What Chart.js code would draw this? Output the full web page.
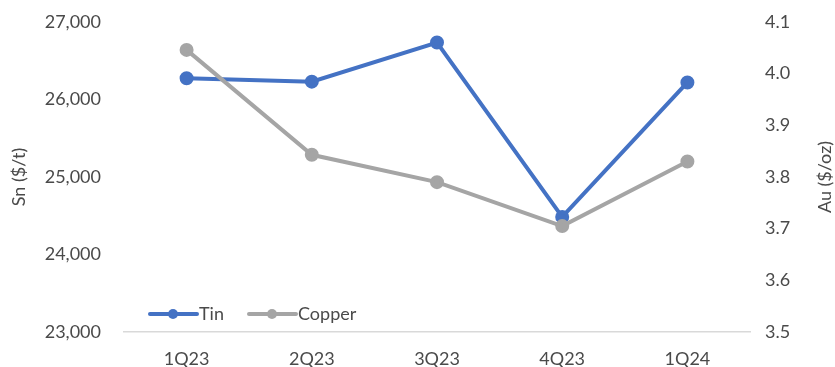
<!DOCTYPE html>
<html>
<head>
<meta charset="utf-8">
<script src="https://cdn.jsdelivr.net/npm/chart.js@4.4.1/dist/chart.umd.min.js"></script>
<style>
  html, body { margin: 0; padding: 0; background: #fff; }
  #wrap { width: 835px; height: 367px; position: relative; }
</style>
</head>
<body>
<div id="wrap"><canvas id="priceChart"></canvas></div>
<script>
const quarters = ['1Q23', '2Q23', '3Q23', '4Q23', '1Q24'];
const tinPrices = [26275, 26230, 26735, 24485, 26220];   // Sn, $/t (left axis)
const copperPrices = [4.046, 3.843, 3.790, 3.705, 3.830]; // Au, $/oz (right axis)
const snTicks = [23000, 27000, 1000];   // min, max, step
const auTicks = [3.5, 4.1, 0.1];

const TIN_COLOR = '#4472C4';
const COPPER_COLOR = '#A5A5A5';
const TEXT_COLOR = '#4A4A4A';
const FONT = 'Lato, "Open Sans", sans-serif';

// fixed axis width; tick padding shouldn't push the plot down
function fixWidth(w) {
    return s => {
        s.width = w;
        s.paddingTop = 0;
        s.paddingBottom = 0;
    };
}

// right-hand axis title, reading bottom to top like the left one
const rightTitle = {
    id: 'rightTitle',
    afterDraw(chart) {
        const c = chart.ctx;
        const s = chart.scales.y2;
        c.save();
        c.translate(s.right - 10, (s.top + s.bottom) / 2);
        c.rotate(-Math.PI / 2);
        c.font = '18px ' + FONT;
        c.fillStyle = TEXT_COLOR;
        c.textAlign = 'center';
        c.textBaseline = 'middle';
        c.fillText('Au ($/oz)', 0, 0);
        c.restore();
    }
};

// legend inside the plot, bottom left, line + dot swatches
const lineLegend = {
    id: 'lineLegend',
    afterDraw(chart) {
        const c = chart.ctx;
        const area = chart.chartArea;
        const y = area.bottom - 18;
        const items = [
            { label: 'Tin', color: TIN_COLOR, x: area.left + 26 },
            { label: 'Copper', color: COPPER_COLOR, x: area.left + 125 }
        ];
        c.save();
        c.font = '18px ' + FONT;
        c.textBaseline = 'middle';
        items.forEach(it => {
            c.strokeStyle = it.color;
            c.fillStyle = it.color;
            c.lineWidth = 4;
            c.lineCap = 'round';
            c.beginPath();
            c.moveTo(it.x, y);
            c.lineTo(it.x + 47, y);
            c.stroke();
            c.beginPath();
            c.arc(it.x + 23, y, 5, 0, Math.PI * 2);
            c.fill();
            c.fillStyle = TEXT_COLOR;
            c.fillText(it.label, it.x + 49, y);
        });
        c.restore();
    }
};

const ctx = document.getElementById('priceChart').getContext('2d');
const priceChart = new Chart(ctx, {
    type: 'line',
    data: {
        labels: quarters,
        datasets: [{
            label: 'Tin',
            data: tinPrices,
            yAxisID: 'y',
            borderColor: TIN_COLOR,
            backgroundColor: TIN_COLOR,
            borderWidth: 4,
            pointRadius: 5,
            pointHoverRadius: 5,
            tension: 0,
            order: 1
        }, {
            label: 'Copper',
            data: copperPrices,
            yAxisID: 'y2',
            borderColor: COPPER_COLOR,
            backgroundColor: COPPER_COLOR,
            borderWidth: 4,
            pointRadius: 5,
            pointHoverRadius: 5,
            tension: 0,
            order: 0
        }]
    },
    options: {
        responsive: true,
        maintainAspectRatio: false,
        animation: false,
        layout: { padding: { top: 22, bottom: 0, left: 0, right: 0 } },
        plugins: {
            legend: { display: false },
            tooltip: { enabled: false }
        },
        scales: {
            x: {
                offset: true,
                grid: { display: false, drawTicks: false, offset: true },
                border: { display: true, color: '#D9D9D9', width: 1.5 },
                ticks: { color: TEXT_COLOR, font: { family: FONT, size: 18 }, padding: 16 },
                afterFit: s => { s.height = 35; }
            },
            y: {
                position: 'left',
                min: snTicks[0],
                max: snTicks[1],
                grid: { display: false, drawTicks: false },
                border: { display: false },
                ticks: {
                    stepSize: snTicks[2],
                    color: TEXT_COLOR,
                    font: { family: FONT, size: 18 },
                    padding: 23,
                    callback: v => v.toLocaleString('en-US')
                },
                title: {
                    display: true,
                    text: 'Sn ($/t)',
                    color: TEXT_COLOR,
                    font: { family: FONT, size: 18 },
                    padding: { top: 8, bottom: 0 }
                },
                afterFit: fixWidth(124)
            },
            y2: {
                position: 'right',
                min: auTicks[0],
                max: auTicks[1],
                grid: { display: false, drawTicks: false },
                border: { display: false },
                ticks: {
                    stepSize: auTicks[2],
                    color: TEXT_COLOR,
                    font: { family: FONT, size: 18 },
                    padding: 15,
                    callback: v => Number(v).toFixed(1)
                },
                afterFit: fixWidth(85)
            }
        }
    },
    plugins: [rightTitle, lineLegend]
});
</script>
</body>
</html>
